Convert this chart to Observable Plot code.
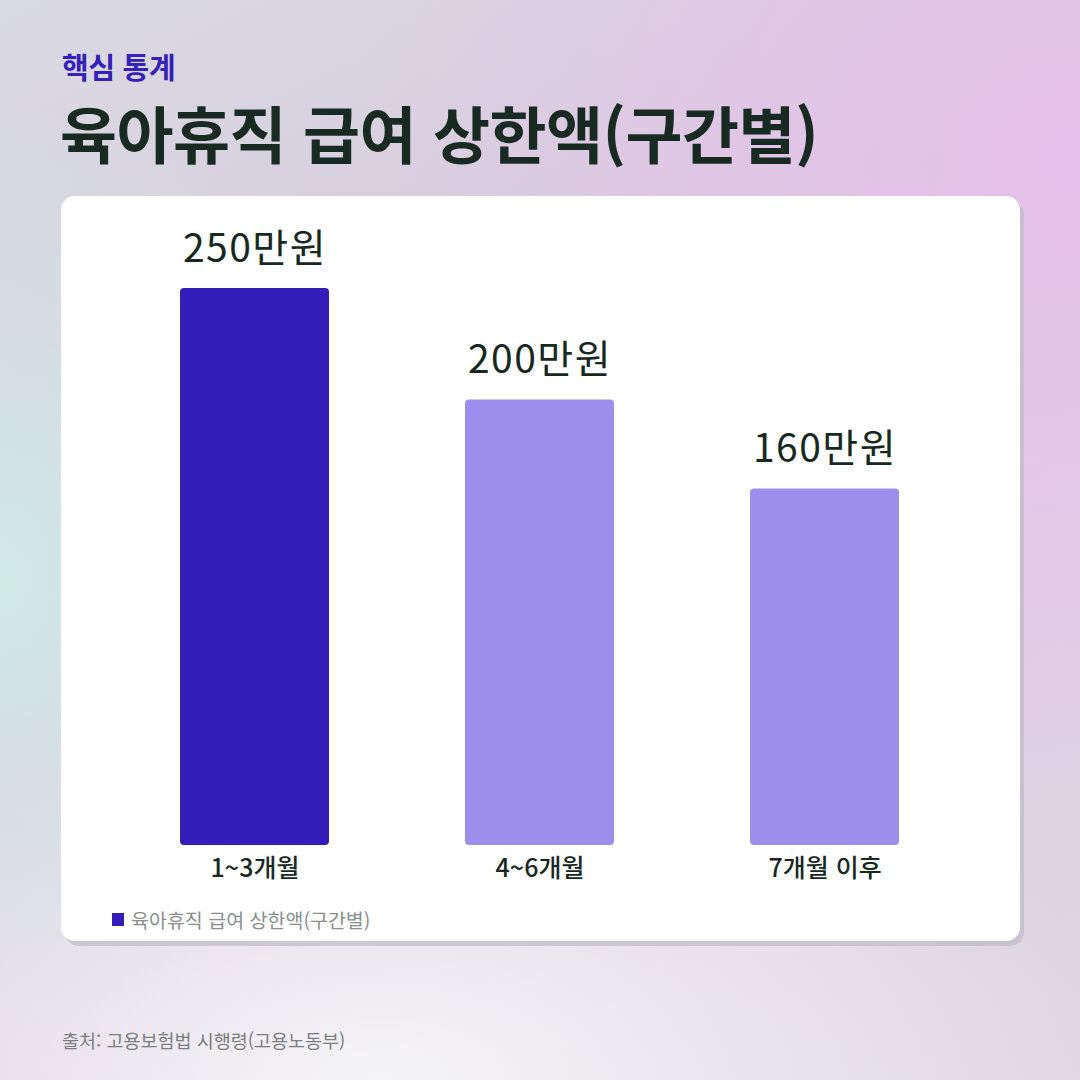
<!DOCTYPE html>
<html lang="ko">
<head>
<meta charset="utf-8">
<script src="https://cdn.jsdelivr.net/npm/d3@7"></script>
<script src="https://cdn.jsdelivr.net/npm/@observablehq/plot@0.6"></script>
<style>
  html, body { margin: 0; padding: 0; }
  body {
    width: 1080px; height: 1080px; overflow: hidden; position: relative;
    font-family: "Noto Sans CJK KR", "Noto Sans", sans-serif;
    background:
      radial-gradient(ellipse 380px 480px at 0px 580px, rgba(208,236,230,0.95), rgba(208,236,230,0) 100%),
      radial-gradient(ellipse 720px 640px at 1080px 160px, rgba(232,192,236,0.95), rgba(232,192,236,0) 100%),
      radial-gradient(ellipse 760px 380px at 380px 1080px, rgba(245,245,247,1), rgba(245,245,247,0) 100%),
      linear-gradient(155deg, #dadae3 0%, #d6c9dc 38%, #e0cde6 62%, #ddd6e0 100%);
  }
  .kicker { position: absolute; left: 62px; top: 45px; font-size: 29px; font-weight: 700; color: #3520b8; letter-spacing: -0.3px; }
  .title { position: absolute; left: 60px; top: 95px; font-size: 62px; font-weight: 700; color: #182a21; letter-spacing: -0.5px; line-height: 1.2; }
  .card {
    position: absolute; left: 61px; top: 196px; width: 959px; height: 745px;
    background: #fff; border-radius: 14px;
    box-shadow: 4px 5px 0 rgba(190,186,198,0.7);
  }
  .chart { position: absolute; left: 0; top: 0; }
  .legend { position: absolute; left: 51px; top: 709px; display: flex; align-items: center; font-size: 19.5px; color: #8a8e8d; }
  .legend .sw { width: 12px; height: 13px; margin-right: 7px; }
  .caption { position: absolute; left: 62px; top: 1027px; font-size: 18.5px; color: #7b7f7e; }
</style>
</head>
<body>
<div class="kicker">핵심 통계</div>
<div class="title">육아휴직 급여 상한액(구간별)</div>
<div class="card">
  <div class="chart" id="chart"></div>
  <div class="legend" id="legend"></div>
</div>
<div class="caption">출처: 고용보험법 시행령(고용노동부)</div>
<script>
const categories = ["1~3개월", "4~6개월", "7개월 이후"];
const values = [250, 200, 160];
const valueLabels = ["250만원", "200만원", "160만원"];
const barColors = ["#341db8", "#9e8eeb", "#9e8eeb"];
const seriesName = "육아휴직 급여 상한액(구간별)";

const data = categories.map((c, i) => ({ category: c, value: values[i], label: valueLabels[i], color: barColors[i] }));

const chart = Plot.plot({
  width: 959,
  height: 700,
  marginTop: 92,
  marginBottom: 51,
  marginLeft: 51,
  marginRight: 53,
  style: { fontFamily: "'Noto Sans CJK KR', 'Noto Sans', sans-serif", background: "transparent", overflow: "visible" },
  x: { domain: categories, paddingInner: 0.477, paddingOuter: 0.2385, label: null },
  y: { domain: [0, 250], axis: null },
  marks: [
    Plot.barY(data, { x: "category", y: "value", fill: "color", rx: 4 }),
    Plot.text(data, { x: "category", y: "value", text: "label", dy: -27, lineAnchor: "bottom", fontSize: 39, fontWeight: 400, fill: "#17291f" }),
    Plot.axisX({ tickSize: 0, tickPadding: 14, fontSize: 25, fontWeight: 500, fill: "#17291f", label: null })
  ]
});
d3.select(chart).selectAll('g[aria-label="text"] text').style("letter-spacing", "1.5px");
document.getElementById("chart").appendChild(chart);

const legend = document.getElementById("legend");
legend.innerHTML = `<div class="sw" style="background:${barColors[0]}"></div><span>${seriesName}</span>`;
</script>
</body>
</html>
